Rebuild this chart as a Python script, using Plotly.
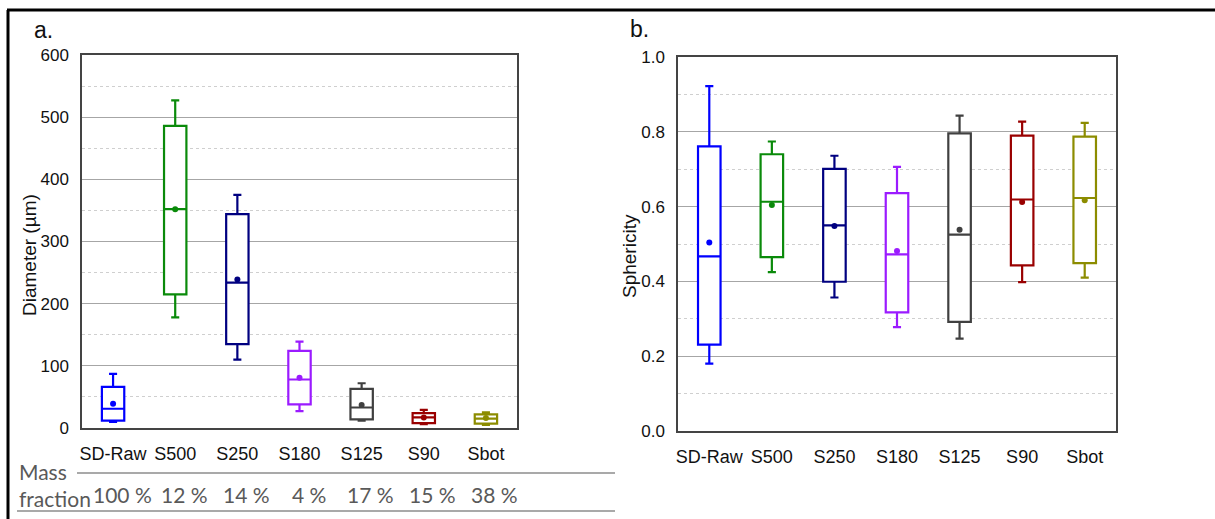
import plotly.graph_objects as go

# Sieve fractions
categories = ["SD-Raw", "S500", "S250", "S180", "S125", "S90", "Sbot"]
colors = ["#0000FF", "#0A8A0A", "#000080", "#9B1BFF", "#404040", "#990000", "#8C8C00"]
mass_fraction = ["100 %", "12 %", "14 %", "4 %", "17 %", "15 %", "38 %"]

# Diameter statistics (µm)
d_lower = [10, 178, 110, 27, 12, 6, 5]
d_q1 = [12, 215, 135, 38, 14, 8, 7]
d_median = [31, 352, 234, 78, 33, 17, 15]
d_q3 = [66, 486, 344, 124, 63, 24, 22]
d_upper = [87, 527, 375, 139, 72, 29, 25]
d_mean = [39, 352, 239, 81, 37, 17, 16]

# Sphericity statistics
s_lower = [0.180, 0.425, 0.357, 0.278, 0.247, 0.398, 0.410]
s_q1 = [0.231, 0.465, 0.399, 0.317, 0.292, 0.443, 0.449]
s_median = [0.467, 0.613, 0.550, 0.472, 0.525, 0.619, 0.623]
s_q3 = [0.761, 0.740, 0.701, 0.636, 0.796, 0.790, 0.787]
s_upper = [0.922, 0.774, 0.736, 0.706, 0.843, 0.827, 0.824]
s_mean = [0.504, 0.604, 0.548, 0.481, 0.538, 0.612, 0.617]

W, H = 1215, 519
TICK_FONT = "Liberation Sans, Arial, sans-serif"
TABLE_FONT = "Lato, Carlito, Calibri, sans-serif"


def px_x(p):
    return p / W


def px_y(p):
    return 1 - p / H


fig = go.Figure()


def add_panel(xa, ya, lower, q1, med, q3, upper, mean):
    for i, cat in enumerate(categories):
        fig.add_trace(go.Box(
            x=[cat], q1=[q1[i]], median=[med[i]], q3=[q3[i]],
            lowerfence=[lower[i]], upperfence=[upper[i]],
            boxpoints=False, width=0.36, whiskerwidth=0.36,
            line=dict(color=colors[i], width=2.2), fillcolor="white",
            xaxis=xa, yaxis=ya, showlegend=False, hoverinfo="skip",
        ))
    fig.add_trace(go.Scatter(
        x=categories, y=mean, mode="markers",
        marker=dict(color=colors, size=6, symbol="circle"),
        xaxis=xa, yaxis=ya, showlegend=False, hoverinfo="skip",
    ))


add_panel("x", "y", d_lower, d_q1, d_median, d_q3, d_upper, d_mean)
add_panel("x2", "y2", s_lower, s_q1, s_median, s_q3, s_upper, s_mean)

frame = dict(showline=True, mirror=True, linecolor="#444444", linewidth=1.5,
             automargin=False)
xcommon = dict(
    type="category", categoryorder="array", categoryarray=categories,
    range=[-0.5, 6.5], ticks="", ticklabelstandoff=9, tickangle=0,
    tickfont=dict(family=TICK_FONT, size=18, color="#111111"),
    showgrid=False, zeroline=False, **frame,
)
ycommon = dict(
    ticks="", ticklabelstandoff=8,
    tickfont=dict(family=TICK_FONT, size=17, color="#111111"),
    showgrid=True, gridcolor="#A6A6A6", gridwidth=1.3, zeroline=False,
    **frame,
)

fig.update_layout(
    template="none",
    width=W, height=H, margin=dict(l=0, r=0, t=0, b=0, autoexpand=False),
    paper_bgcolor="white", plot_bgcolor="white",
    xaxis=dict(domain=[px_x(82), px_x(517)], anchor="y", **xcommon),
    yaxis=dict(domain=[px_y(428), px_y(55)], anchor="x", range=[0, 600],
               dtick=100, tickformat="d",
               minor=dict(dtick=50, showgrid=True, gridcolor="#CFCFCF",
                          griddash="dot", gridwidth=1),
               **ycommon),
    xaxis2=dict(domain=[px_x(678), px_x(1116)], anchor="y2", **xcommon),
    yaxis2=dict(domain=[px_y(431), px_y(57)], anchor="x2", range=[0, 1.0],
                dtick=0.2, tickformat=".1f",
                minor=dict(dtick=0.1, showgrid=True, gridcolor="#CFCFCF",
                           griddash="dot", gridwidth=1),
                **ycommon),
)

annotations = [
    dict(text="a.", x=px_x(43), y=px_y(30)),
    dict(text="b.", x=px_x(639), y=px_y(29)),
]
for a in annotations:
    a.update(xref="paper", yref="paper", showarrow=False,
             xanchor="center", yanchor="middle",
             font=dict(family=TICK_FONT, size=23, color="#111111"))
    fig.add_annotation(**a)

# Axis titles
fig.add_annotation(text="Diameter (µm)", x=px_x(29), y=px_y(255),
                   xref="paper", yref="paper", showarrow=False, textangle=-90,
                   xanchor="center", yanchor="middle",
                   font=dict(family=TICK_FONT, size=19, color="#111111"))
fig.add_annotation(text="Sphericity", x=px_x(629), y=px_y(256),
                   xref="paper", yref="paper", showarrow=False, textangle=-90,
                   xanchor="center", yanchor="middle",
                   font=dict(family=TICK_FONT, size=19, color="#111111"))

# Mass fraction row under the diameter panel
fig.add_annotation(text="Mass", x=px_x(17), y=px_y(471), xref="paper", yref="paper",
                   showarrow=False, xanchor="left", yanchor="middle",
                   font=dict(family=TABLE_FONT, size=21, color="#595959"))
fig.add_annotation(text="fraction", x=px_x(17), y=px_y(498), xref="paper", yref="paper",
                   showarrow=False, xanchor="left", yanchor="middle",
                   font=dict(family=TABLE_FONT, size=21, color="#595959"))
for cat, frac in zip(categories, mass_fraction):
    fig.add_annotation(text=frac, x=cat, y=px_y(494), xref="x", yref="paper",
                       xshift=9, showarrow=False, xanchor="center", yanchor="middle",
                       font=dict(family=TABLE_FONT, size=21, color="#595959"))

shapes = [
    # table rules
    dict(type="line", x0=px_x(77), x1=px_x(615), y0=px_y(473), y1=px_y(473),
         line=dict(color="#8C8C8C", width=1.5)),
    dict(type="line", x0=px_x(17), x1=px_x(615), y0=px_y(511), y1=px_y(511),
         line=dict(color="#8C8C8C", width=1.5)),
    # outer frame
    dict(type="line", x0=px_x(7), x1=1, y0=px_y(10), y1=px_y(10),
         line=dict(color="black", width=3)),
    dict(type="line", x0=px_x(8), x1=px_x(8), y0=0, y1=px_y(10),
         line=dict(color="black", width=3)),
]
for s in shapes:
    s.update(xref="paper", yref="paper")
    fig.add_shape(**s)

fig.write_html("out.html")
